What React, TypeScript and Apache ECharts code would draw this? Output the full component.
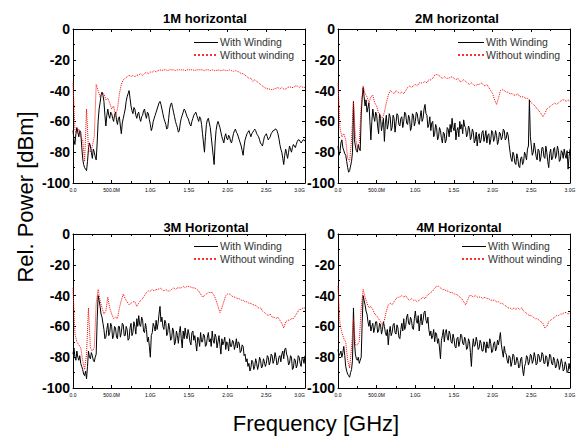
import React, { useEffect, useRef } from "react";
import * as echarts from "echarts";

// Frequency sampling of the traces (GHz)
const BLACK_STEP = 0.0125;
const RED_STEP = 0.025;
const xTickLabels = ["0.0", "500.0M", "1.0G", "1.5G", "2.0G", "2.5G", "3.0G"];
const panelTitles = ["1M horizontal", "2M horizontal", "3M Horizontal", "4M Horizontal"];
const seriesNames = ["With Winding", "Without winding"];

// 1M horizontal
const withWinding1M = [
  -66, -72, -75, -68, -64, -67, -70, -66, -67, -76, -84, -88, -90, -91, -92, -86, -78, -74, -76, -80,
  -84, -78, -80, -83, -85, -74, -60, -52, -48, -43, -41, -43, -47, -56, -63, -56, -52, -56, -58, -54,
  -55, -58, -60, -56, -54, -59, -62, -58, -57, -63, -68, -61, -58, -55, -52, -47, -44, -42, -40, -45,
  -50, -53, -55, -51, -52, -56, -58, -55, -54, -58, -60, -57, -56, -53, -52, -56, -58, -54, -55, -59,
  -62, -66, -64, -60, -58, -56, -54, -52, -50, -48, -47, -49, -52, -55, -58, -60, -62, -65, -64, -58,
  -52, -49, -48, -51, -54, -57, -60, -62, -64, -67, -66, -61, -58, -56, -54, -52, -53, -55, -57, -58,
  -60, -62, -63, -60, -58, -56, -55, -54, -56, -58, -60, -57, -58, -62, -68, -74, -80, -70, -62, -59,
  -58, -61, -64, -70, -76, -82, -88, -74, -66, -62, -60, -62, -64, -67, -70, -72, -74, -70, -68, -71,
  -72, -69, -70, -73, -74, -71, -68, -66, -65, -67, -68, -70, -72, -74, -76, -79, -82, -76, -72, -70,
  -68, -67, -66, -68, -70, -68, -67, -66, -65, -66, -68, -69, -70, -72, -74, -75, -76, -73, -70, -69,
  -68, -70, -72, -71, -70, -68, -67, -66, -66, -65, -65, -66, -68, -71, -75, -78, -80, -84, -88, -82,
  -78, -81, -84, -80, -76, -78, -80, -77, -75, -76, -77, -75, -73, -72, -72, -73, -74, -73, -72, -72,
  -73,
];
const withoutWinding1M = [
  -35, -66, -68, -65, -70, -72, -86, -52, -78, -80, -76, -70, -36, -40, -44, -42, -42, -46, -45, -48,
  -52, -50, -56, -52, -42, -36, -33, -32, -31, -30, -31, -30, -31, -30, -30, -29, -30, -29, -28, -29,
  -28, -28, -27, -28, -27, -26.5, -27, -26.5, -26.5, -27, -26.5, -26.5, -26.5, -27, -26.5, -26.5, -26.5, -26.5, -27, -26.5,
  -26.5, -26.5, -26.5, -27, -26.5, -26.5, -26.5, -26.5, -27, -26.5, -26.5, -27, -26.5, -27, -27, -26.5, -27, -27, -26.5, -27,
  -27, -26.5, -27, -27.5, -27, -27.5, -28, -29, -29, -30, -31, -32, -32, -34, -33, -34, -35, -36, -37, -38,
  -38.5, -39, -39, -39.5, -39, -38.5, -38, -39, -38, -39, -39, -38, -37.5, -38, -38, -37, -37, -38, -37, -38,
  -38,
];

// 2M horizontal
const withWinding2M = [
  -76, -82, -80, -74, -72, -77, -79, -81, -82, -86, -90, -93, -92, -89, -86, -80, -47, -72, -76, -79,
  -80, -75, -78, -79, -56, -45, -38, -44, -50, -46, -54, -51, -48, -60, -72, -60, -52, -57, -60, -54,
  -56, -63, -68, -55, -58, -66, -62, -58, -73, -61, -56, -65, -62, -55, -57, -66, -64, -56, -58, -67,
  -61, -55, -56, -62, -63, -58, -57, -64, -60, -54, -55, -61, -62, -56, -58, -66, -64, -55, -56, -63,
  -60, -54, -55, -60, -62, -57, -53, -60, -58, -52, -49, -55, -56, -64, -62, -57, -66, -61, -60, -70,
  -68, -62, -64, -72, -70, -64, -66, -71, -74, -67, -68, -74, -72, -64, -65, -70, -62, -67, -58, -64,
  -66, -61, -72, -66, -64, -70, -60, -65, -62, -68, -59, -63, -64, -70, -68, -63, -65, -72, -70, -65,
  -67, -74, -72, -67, -76, -70, -68, -74, -72, -67, -66, -73, -70, -66, -74, -69, -68, -75, -72, -66,
  -67, -73, -71, -66, -69, -75, -73, -67, -68, -72, -70, -65, -66, -72, -71, -67, -69, -75, -80, -84,
  -86, -80, -82, -87, -88, -81, -84, -89, -90, -84, -83, -88, -86, -80, -82, -85, -78, -76, -46, -70,
  -76, -82, -80, -74, -78, -83, -85, -78, -79, -86, -83, -77, -77, -83, -84, -76, -80, -86, -90, -81,
  -78, -85, -84, -78, -77, -84, -82, -76, -79, -86, -85, -79, -80, -84, -78, -82, -84, -79, -91, -83,
  -78,
];
const withoutWinding2M = [
  -35, -64, -70, -68, -72, -84, -86, -72, -47, -70, -77, -74, -50, -37, -42, -44, -48, -44, -43, -48,
  -50, -55, -56, -58, -54, -48, -43, -40, -41, -42, -40, -41, -42, -41, -42, -40, -38, -37, -38, -37,
  -36, -37, -35, -35, -35, -34, -35, -33, -33, -32, -30, -29.5, -30, -31, -32, -31, -32, -32, -31.5, -31,
  -32, -33, -32, -34, -34, -33, -34, -35, -36, -35, -36, -37, -36, -36, -35, -36, -37, -36, -38, -40,
  -42, -46, -49, -45, -40, -39.5, -40, -41, -41, -42, -42, -43, -43, -42, -44, -44, -44, -45, -45, -46,
  -48, -49, -50, -52, -53, -55, -57, -55, -52, -51, -50, -49, -48, -49, -48, -47, -46, -46, -47, -46,
  -47,
];

// 3M Horizontal
const withWinding3M = [
  -78, -74, -80, -82, -76, -80, -82, -79, -84, -86, -88, -91, -92, -89, -94, -86, -76, -80, -81, -77,
  -79, -82, -83, -80, -78, -56, -40, -43, -47, -52, -54, -58, -62, -68, -67, -62, -58, -66, -64, -58,
  -60, -68, -66, -60, -61, -67, -68, -60, -60, -67, -64, -58, -59, -66, -66, -60, -62, -69, -68, -61,
  -58, -66, -64, -57, -60, -65, -55, -60, -53, -59, -60, -54, -56, -63, -64, -58, -62, -70, -67, -73,
  -80, -66, -64, -58, -60, -63, -56, -62, -58, -52, -47, -57, -54, -60, -62, -56, -58, -66, -64, -58,
  -62, -69, -68, -61, -63, -72, -70, -63, -66, -71, -64, -60, -68, -74, -63, -68, -61, -66, -68, -62,
  -65, -70, -72, -64, -63, -69, -66, -71, -76, -67, -68, -73, -64, -70, -70, -65, -66, -73, -72, -67,
  -64, -70, -68, -73, -63, -69, -71, -65, -67, -74, -70, -66, -72, -78, -68, -72, -70, -67, -75, -70,
  -71, -76, -68, -73, -73, -69, -70, -75, -72, -68, -74, -70, -71, -77, -76, -72, -73, -79, -78, -83,
  -81, -86, -84, -89, -87, -82, -83, -88, -86, -81, -84, -88, -85, -80, -82, -87, -86, -81, -83, -86,
  -84, -79, -80, -85, -83, -78, -79, -84, -82, -77, -80, -85, -84, -80, -79, -83, -78, -76, -81, -75,
  -74, -78, -80, -85, -84, -79, -80, -88, -87, -81, -82, -87, -85, -79, -80, -84, -86, -80, -81, -84,
  -79,
];
const withoutWinding3M = [
  -35, -65, -70, -72, -74, -82, -88, -78, -48, -74, -76, -74, -45, -36, -43, -48, -52, -50, -41, -48,
  -52, -55, -54, -55, -48, -43, -39, -42, -44, -46, -45, -44, -44, -47, -45, -43, -42, -40, -38, -37,
  -37, -36, -37, -36, -36, -35, -36, -37, -36, -37, -37, -36, -35, -36, -35, -35, -35, -34, -35, -34,
  -34, -34.5, -35, -35, -36, -37, -39, -41, -40, -39, -38, -38, -38, -40, -43, -47, -51, -48, -44, -40,
  -39, -39, -40, -41, -41, -42, -42, -43, -43, -44, -44, -45, -45, -46, -46, -47, -48, -48, -50, -51,
  -52, -53, -52, -54, -54, -55, -54, -56, -58, -61, -57, -56, -56, -55, -55, -53, -51, -49, -49, -48,
  -48,
];

// 4M Horizontal
const withWinding4M = [
  -75, -79, -78, -76, -80, -77, -73, -79, -86, -89, -91, -92, -93, -90, -88, -82, -48, -70, -78, -81,
  -82, -80, -84, -82, -80, -58, -40, -43, -46, -50, -52, -57, -60, -56, -63, -60, -58, -64, -61, -57,
  -57, -64, -63, -58, -59, -65, -62, -57, -60, -64, -66, -62, -72, -64, -60, -66, -64, -59, -58, -64,
  -65, -59, -61, -67, -68, -62, -58, -63, -55, -62, -60, -54, -52, -58, -59, -54, -56, -61, -62, -55,
  -50, -56, -58, -53, -63, -57, -52, -59, -56, -51, -50, -56, -58, -54, -62, -66, -63, -68, -66, -62,
  -70, -64, -65, -71, -68, -74, -81, -69, -66, -62, -70, -64, -62, -67, -69, -63, -65, -70, -71, -65,
  -68, -73, -74, -68, -67, -73, -70, -65, -66, -71, -72, -67, -69, -75, -74, -68, -70, -77, -86, -74,
  -68, -73, -72, -67, -70, -75, -74, -69, -71, -76, -76, -70, -72, -77, -70, -74, -74, -68, -71, -77,
  -76, -71, -70, -76, -74, -69, -72, -68, -64, -72, -76, -80, -73, -77, -78, -82, -84, -79, -80, -86,
  -83, -78, -79, -85, -84, -80, -82, -87, -86, -81, -80, -88, -92, -86, -84, -79, -80, -85, -83, -78,
  -79, -84, -82, -77, -80, -85, -84, -78, -79, -83, -82, -77, -78, -84, -84, -79, -80, -86, -83, -78,
  -79, -84, -85, -80, -82, -87, -86, -81, -83, -88, -85, -81, -84, -89, -88, -83, -85, -90, -89, -84,
  -88,
];
const withoutWinding4M = [
  -34, -58, -64, -68, -70, -82, -87, -74, -55, -72, -72, -70, -48, -36, -41, -45, -48, -47, -49, -52,
  -53, -55, -57, -59, -56, -50, -46, -45, -46, -44, -42, -41, -41, -40, -41, -40, -42, -43, -42, -43,
  -43, -44, -43, -42, -41, -42, -40, -39, -38, -37, -35, -34, -34, -35, -36, -36, -37, -37, -38, -38,
  -39, -39, -40, -41, -42, -44, -46, -43, -40, -40, -41, -40, -41, -41, -41, -42, -41, -42, -42, -43,
  -43, -43, -44, -44, -45, -45, -46, -47, -48, -48, -49, -48, -49, -48, -49, -48, -50, -51, -52, -53,
  -53, -54, -55, -55, -56, -57, -58, -61, -60, -57, -56, -55, -54, -53, -53, -52, -52, -51, -51, -52,
  -51,
];

const blackSeries = [withWinding1M, withWinding2M, withWinding3M, withWinding4M];
const redSeries = [withoutWinding1M, withoutWinding2M, withoutWinding3M, withoutWinding4M];

// Layout (pixels)
const GRID_POS = [
  { left: 73, top: 29 },
  { left: 338, top: 29 },
  { left: 73, top: 234 },
  { left: 338, top: 234 },
];
const GRID_W = 232;
const GRID_H = 154;
const TITLE_POS = [
  [205, 18],
  [457, 18],
  [206, 227],
  [459, 227],
];
const LEGEND_POS = [
  { x1: 194, x2: 218, tx: 220, y1: 42, y2: 54 },
  { x1: 458, x2: 484, tx: 486, y1: 42, y2: 54 },
  { x1: 194, x2: 218, tx: 220, y1: 246, y2: 258 },
  { x1: 462, x2: 486, tx: 488, y1: 246, y2: 258 },
];

const FONT = "'Liberation Sans', Arial, Helvetica, sans-serif";

function toPairs(vals: number[], step: number) {
  return vals.map((v, i) => [i * step, v]);
}

export default function App() {
  const ref = useRef<HTMLDivElement>(null);

  useEffect(() => {
    document.body.style.margin = "0";
    if (!ref.current) return;
    const chart = echarts.init(ref.current, null, { renderer: "svg" });

    const axisLine = { onZero: false, lineStyle: { color: "#000", width: 1 } };
    const axisTick = { inside: true, length: 3, lineStyle: { color: "#000", width: 1 } };
    const minorTick = { show: true, splitNumber: 2, length: 2, lineStyle: { color: "#000", width: 1 } };

    const grid: any[] = [];
    const xAxis: any[] = [];
    const yAxis: any[] = [];
    const series: any[] = [];
    const graphic: any[] = [];

    GRID_POS.forEach((g, i) => {
      const isLeft = i % 2 === 0;
      grid.push({ left: g.left, top: g.top, width: GRID_W, height: GRID_H, containLabel: false });
      xAxis.push({
        gridIndex: i,
        type: "value",
        min: 0,
        max: 3,
        interval: 0.5,
        position: "bottom",
        axisLine,
        axisTick,
        minorTick,
        splitLine: { show: false },
        axisLabel: {
          fontSize: 5,
          color: "#000",
          margin: 4,
          fontFamily: FONT,
          showMinLabel: true,
          showMaxLabel: true,
          alignMaxLabel: isLeft ? "right" : "center",
          formatter: (v: number) => xTickLabels[Math.round(v / 0.5)] ?? "",
        },
      });
      xAxis.push({
        gridIndex: i,
        type: "value",
        min: 0,
        max: 3,
        interval: 0.5,
        position: "top",
        axisLine,
        axisTick,
        minorTick,
        splitLine: { show: false },
        axisLabel: { show: false },
      });
      yAxis.push({
        gridIndex: i,
        type: "value",
        min: -100,
        max: 0,
        interval: 20,
        position: "left",
        axisLine,
        axisTick,
        minorTick,
        splitLine: { show: false },
        axisLabel: {
          fontSize: 14,
          fontWeight: "bold",
          color: "#000",
          margin: 3,
          fontFamily: FONT,
          showMinLabel: true,
          showMaxLabel: true,
        },
      });
      yAxis.push({
        gridIndex: i,
        type: "value",
        min: -100,
        max: 0,
        interval: 20,
        position: "right",
        axisLine,
        axisTick,
        minorTick,
        splitLine: { show: false },
        axisLabel: { show: false },
      });

      series.push({
        name: seriesNames[0],
        type: "line",
        xAxisIndex: i * 2,
        yAxisIndex: i * 2,
        data: toPairs(blackSeries[i], BLACK_STEP),
        showSymbol: false,
        symbol: "none",
        lineStyle: { color: "#000", width: 1 },
        z: 2,
      });
      series.push({
        name: seriesNames[1],
        type: "line",
        xAxisIndex: i * 2,
        yAxisIndex: i * 2,
        data: toPairs(redSeries[i], RED_STEP),
        showSymbol: false,
        symbol: "none",
        lineStyle: { color: "#ff0000", width: 1, type: "dotted" },
        z: 3,
      });

      const [tx, ty] = TITLE_POS[i];
      graphic.push({
        type: "text",
        x: tx,
        y: ty,
        style: {
          text: panelTitles[i],
          fill: "#000",
          font: `bold 13px ${FONT}`,
          textAlign: "center",
          textVerticalAlign: "middle",
        },
      });
      const lp = LEGEND_POS[i];
      // solid black sample line
      graphic.push({
        type: "rect",
        shape: { x: lp.x1, y: lp.y1, width: lp.x2 - lp.x1, height: 1 },
        style: { fill: "#000" },
      });
      // dotted red sample line, drawn as short red dashes
      const dots: any[] = [];
      for (let x = lp.x1; x < lp.x2 - 1; x += 4) {
        dots.push({
          type: "rect",
          shape: { x, y: lp.y2, width: 2, height: 2 },
          style: { fill: "#ff3030" },
        });
      }
      graphic.push({ type: "group", children: dots });
      graphic.push({
        type: "text",
        x: lp.tx,
        y: lp.y1,
        style: {
          text: seriesNames[0],
          fill: "#333",
          font: `10.5px ${FONT}`,
          textAlign: "left",
          textVerticalAlign: "middle",
        },
      });
      graphic.push({
        type: "text",
        x: lp.tx,
        y: lp.y2 + 1,
        style: {
          text: seriesNames[1],
          fill: "#333",
          font: `10.5px ${FONT}`,
          textAlign: "left",
          textVerticalAlign: "middle",
        },
      });
    });

    graphic.push({
      type: "text",
      x: 25,
      y: 197,
      rotation: Math.PI / 2,
      style: {
        text: "Rel. Power [dBm]",
        fill: "#000",
        font: `22px ${FONT}`,
        textAlign: "center",
        textVerticalAlign: "middle",
      },
    });
    graphic.push({
      type: "text",
      x: 316,
      y: 423,
      style: {
        text: "Frequency [GHz]",
        fill: "#000",
        font: `22px ${FONT}`,
        textAlign: "center",
        textVerticalAlign: "middle",
      },
    });

    chart.setOption({
      animation: false,
      backgroundColor: "#fff",
      grid,
      xAxis,
      yAxis,
      series,
      graphic,
    });

    return () => chart.dispose();
  }, []);

  return <div ref={ref} style={{ width: 580, height: 437 }} />;
}
